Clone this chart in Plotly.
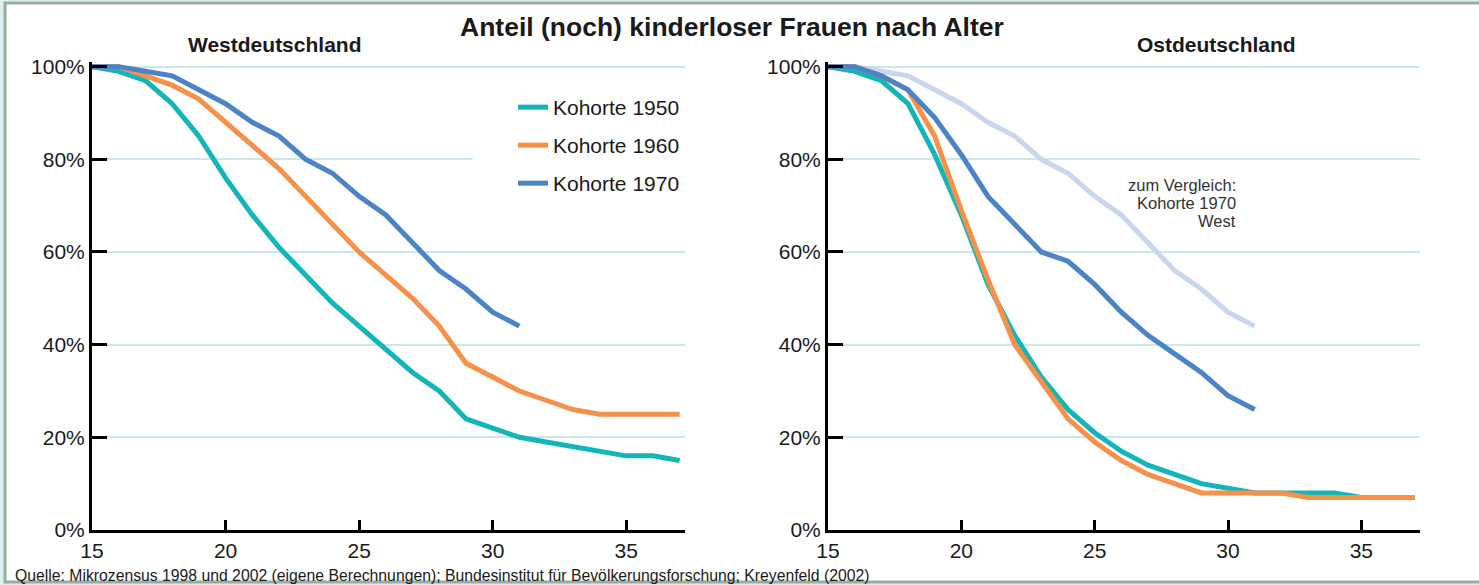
import plotly.graph_objects as go

ages = list(range(15, 38))

# Westdeutschland
west_1950 = [100, 99, 97, 92, 85, 76, 68, 61, 55, 49, 44, 39, 34, 30, 24, 22, 20, 19, 18, 17, 16, 16, 15]
west_1960 = [100, 100, 98, 96, 93, 88, 83, 78, 72, 66, 60, 55, 50, 44, 36, 33, 30, 28, 26, 25, 25, 25, 25]
west_1970 = [100, 100, 99, 98, 95, 92, 88, 85, 80, 77, 72, 68, 62, 56, 52, 47, 44]

# Ostdeutschland
east_1950 = [100, 99, 97, 92, 81, 68, 53, 42, 33, 26, 21, 17, 14, 12, 10, 9, 8, 8, 8, 8, 7, 7, 7]
east_1960 = [100, 100, 98, 95, 85, 69, 54, 40, 32, 24, 19, 15, 12, 10, 8, 8, 8, 8, 7, 7, 7, 7, 7]
east_1970 = [100, 100, 98, 95, 89, 81, 72, 66, 60, 58, 53, 47, 42, 38, 34, 29, 26]

series_names = ["Kohorte 1950", "Kohorte 1960", "Kohorte 1970"]
x_ticks = [15, 20, 25, 30, 35]
y_ticks = [0, 20, 40, 60, 80, 100]
y_tick_labels = ["0%", "20%", "40%", "60%", "80%", "100%"]
note_lines = ["zum Vergleich:", "Kohorte 1970", "West"]

C_TEAL = "#12b5b8"
C_ORANGE = "#f7914a"
C_BLUE = "#4a84c6"
C_LIGHT = "#c9d6ee"
GRID = "#c9e8ec"
FONT = "Liberation Sans, Arial, sans-serif"

W, H = 1479, 585
ML, MR, MT, MB = 92, 59, 62, 55
PW = W - ML - MR
PH = H - MT - MB

def px_x(p):
    return (p - ML) / PW

def px_y(p):
    return 1 - (p - MT) / PH

def data_y(p):
    # pixel row -> y value (0% at 530, 101% at 62)
    return (530 - p) / (PH / 101)

fig = go.Figure()

colors = [C_TEAL, C_ORANGE, C_BLUE]
west = [west_1950, west_1960, west_1970]
east = [east_1950, east_1960, east_1970]

# comparison line in East panel (drawn first, below)
fig.add_trace(go.Scatter(x=ages[:len(west_1970)], y=west_1970, mode="lines",
                         line=dict(color=C_LIGHT, width=5), showlegend=False,
                         xaxis="x2", yaxis="y2", hoverinfo="skip"))

for name, col, vals in zip(series_names, colors, west):
    fig.add_trace(go.Scatter(x=ages[:len(vals)], y=vals, mode="lines", name=name,
                             legendgroup=name, line=dict(color=col, width=5),
                             xaxis="x", yaxis="y"))
for name, col, vals in zip(series_names, colors, east):
    fig.add_trace(go.Scatter(x=ages[:len(vals)], y=vals, mode="lines", name=name,
                             legendgroup=name, showlegend=False,
                             line=dict(color=col, width=5),
                             xaxis="x2", yaxis="y2"))

xcommon = dict(range=[15, 37.2], tickvals=x_ticks, ticks="inside", ticklen=10,
               tickwidth=3, tickcolor="black", showline=True, linecolor="black",
               linewidth=3, showgrid=False, zeroline=False,
               tickfont=dict(size=21, color="#1a1a1a", family=FONT))
ycommon = dict(range=[0, 101], tickvals=y_ticks, ticktext=y_tick_labels,
               ticks="inside", ticklen=15, tickwidth=3, tickcolor="black",
               showline=True, linecolor="black", linewidth=3, showgrid=True,
               gridcolor=GRID, gridwidth=2, zeroline=False,
               tickfont=dict(size=21, color="#1a1a1a", family=FONT))

left_dom = [0, px_x(685)]
right_dom = [px_x(828), 1]

fig.update_layout(
    width=W, height=H,
    margin=dict(l=ML, r=MR, t=MT, b=MB),
    paper_bgcolor="#dcf0f2", plot_bgcolor="white",
    font=dict(family=FONT, color="#1a1a1a"),
    xaxis=dict(domain=left_dom, anchor="y", **xcommon),
    yaxis=dict(domain=[0, 1], anchor="x", **ycommon),
    xaxis2=dict(domain=right_dom, anchor="y2", **xcommon),
    yaxis2=dict(domain=[0, 1], anchor="x2", **ycommon),
    legend=dict(x=px_x(513), y=px_y(87), xanchor="left", yanchor="top",
                bgcolor="white", borderwidth=0, tracegroupgap=7.7,
                font=dict(size=21, color="#1a1a1a", family=FONT)),
    showlegend=True,
)

# frame
fig.add_shape(type="rect", xref="paper", yref="paper",
              x0=px_x(5), x1=px_x(1500), y0=px_y(582), y1=px_y(3),
              fillcolor="white", line=dict(color="#9aab9c", width=3), layer="below")
# white area behind legend covering gridline (axis referenced so it sits above grid)
fig.add_shape(type="rect", xref="x", yref="y",
              x0=15 + (472 - 92) / 26.67, x1=37.2, y0=data_y(200), y1=data_y(90),
              fillcolor="white", line=dict(width=0), layer="between")

fig.add_annotation(text="<b>Anteil (noch) kinderloser Frauen nach Alter</b>",
                   xref="paper", yref="paper", x=px_x(732), y=px_y(27),
                   xanchor="center", yanchor="middle", showarrow=False,
                   font=dict(size=26.5, color="#1a1a1a", family=FONT))
fig.add_annotation(text="<b>Westdeutschland</b>", xref="paper", yref="paper",
                   x=px_x(274), y=px_y(45), xanchor="center", yanchor="middle",
                   showarrow=False, font=dict(size=21, color="#1a1a1a", family=FONT))
fig.add_annotation(text="<b>Ostdeutschland</b>", xref="paper", yref="paper",
                   x=px_x(1216), y=px_y(45), xanchor="center", yanchor="middle",
                   showarrow=False, font=dict(size=21, color="#1a1a1a", family=FONT))
for i, line in enumerate(note_lines):
    fig.add_annotation(text=line, xref="x2", yref="y2",
                       x=15 + (1238 - 828) / 26.67, y=data_y(185 + 18 * i),
                       xanchor="right", yanchor="middle", align="right", showarrow=False,
                       font=dict(size=16.5, color="#333333", family=FONT))
fig.add_annotation(text="Quelle: Mikrozensus 1998 und 2002 (eigene Berechnungen); Bundesinstitut für Bevölkerungsforschung; Kreyenfeld (2002)",
                   xref="paper", yref="paper", x=px_x(13), y=px_y(575),
                   xanchor="left", yanchor="middle", showarrow=False,
                   font=dict(size=15.75, color="#1a1a1a", family=FONT))

fig.write_html("out.html", config={"displayModeBar": False},
               post_script="document.body.style.margin='0';document.body.style.overflow='hidden';")
